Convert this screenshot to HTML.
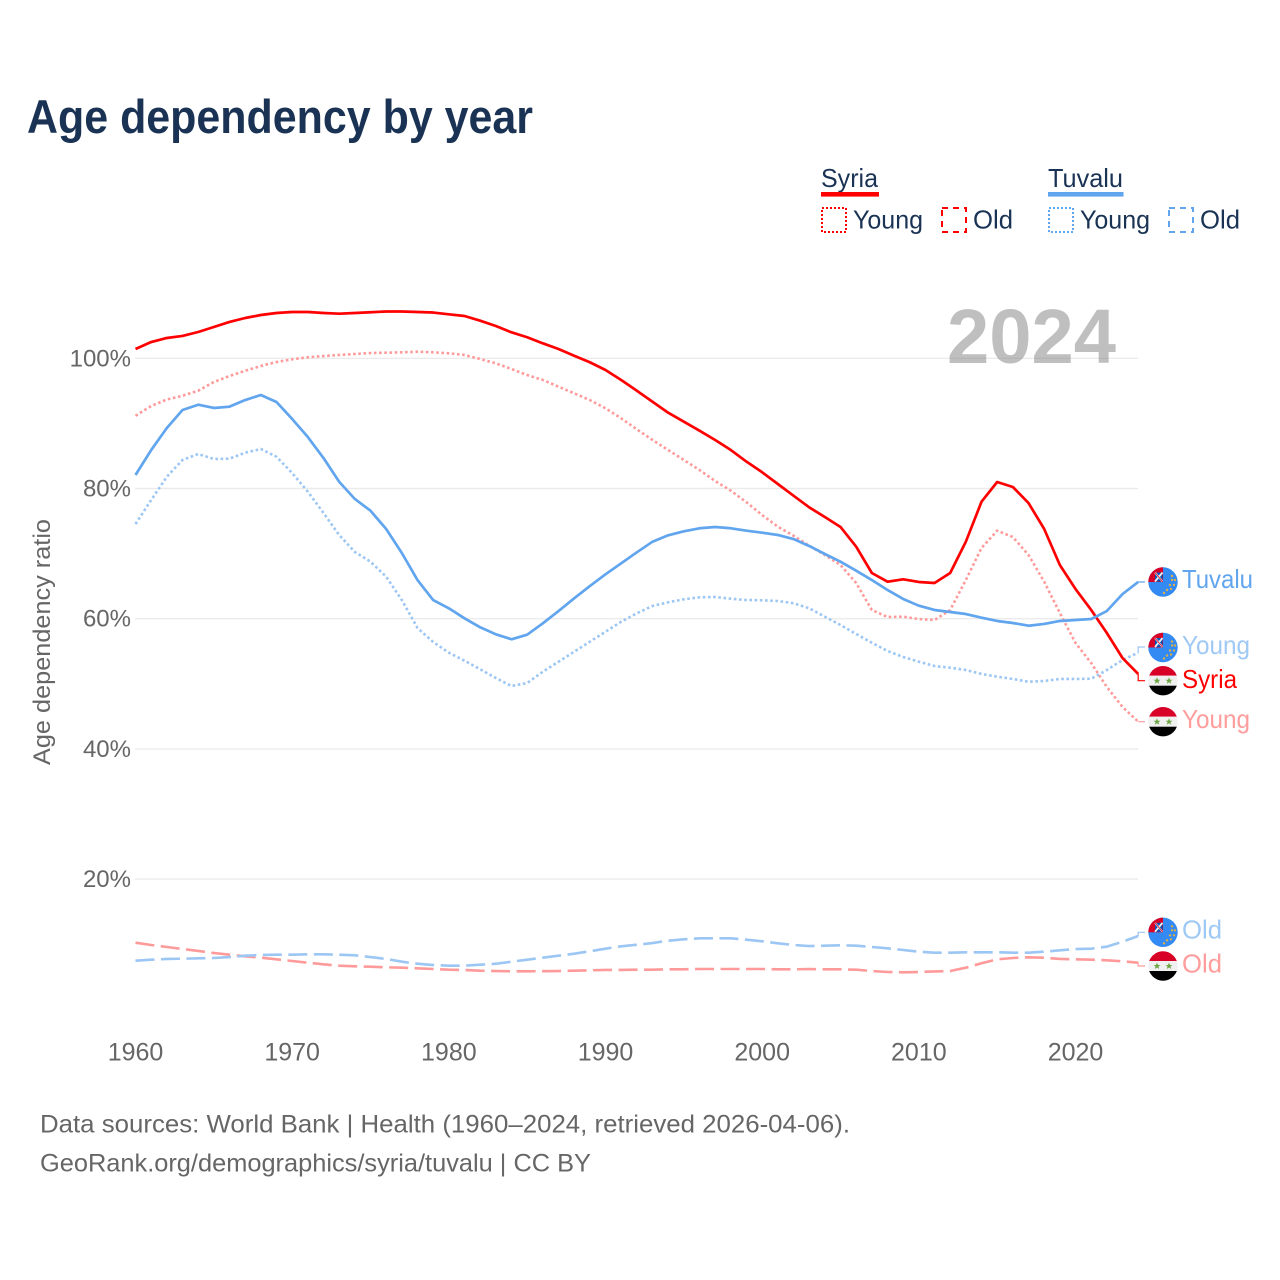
<!DOCTYPE html>
<html lang="en">
<head>
<meta charset="utf-8">
<title>Age dependency by year</title>
<style>
html,body{margin:0;padding:0;background:#fff;width:1280px;height:1280px;overflow:hidden}
svg{display:block}
text{font-family:"Liberation Sans",sans-serif}
</style>
</head>
<body>
<svg id="chart" xmlns="http://www.w3.org/2000/svg" width="1280" height="1280" viewBox="0 0 1280 1280">
  <defs>
    <clipPath id="flag-clip"><circle cx="0" cy="0" r="14.7"/></clipPath>
    <symbol id="flag-tuvalu" overflow="visible" viewBox="-15 -15 30 30" width="30" height="30">
      <g clip-path="url(#flag-clip)">
        <rect x="-15" y="-15" width="30" height="30" fill="#338af3"/>
        <rect x="-15" y="-15" width="15" height="15" fill="#d80027"/>
        <polygon points="-15,-15 -9,-15 -15,-8" fill="#f0f0f0"/>
        <rect x="-8" y="-9.500" width="7.500" height="9" fill="#0052b4"/>
        <path d="M-8,-9.500 L-0.500,-0.500 M-0.500,-9.500 L-8,-0.500" stroke="#f0f0f0" stroke-width="1.800"/>
        <path d="M-8,-9.500 L-0.500,-0.500" stroke="#d80027" stroke-width="0.800"/>
        <g fill="#d8b04a">
          <circle cx="9" cy="-2" r="1.200"/><circle cx="12" cy="-2" r="1.200"/><circle cx="7" cy="3" r="1.200"/>
          <circle cx="11" cy="3" r="1.200"/><circle cx="4" cy="8" r="1.200"/><circle cx="8" cy="7" r="1.200"/>
          <circle cx="1" cy="11" r="1.200"/><circle cx="9" cy="-6" r="1.200"/>
        </g>
      </g>
    </symbol>
    <symbol id="flag-syria" overflow="visible" viewBox="-15 -15 30 30" width="30" height="30">
      <g clip-path="url(#flag-clip)">
        <rect x="-15" y="-15" width="30" height="10" fill="#d80027"/>
        <rect x="-15" y="-5" width="30" height="10" fill="#f0f0f0"/>
        <rect x="-15" y="5" width="30" height="10" fill="#000"/>
        <polygon points="-6,-3.400 -5,-1 -2.500,-1 -4.500,0.500 -3.800,3 -6,1.500 -8.200,3 -7.500,0.500 -9.500,-1 -7,-1" fill="#6da544"/>
        <polygon points="6,-3.400 7,-1 9.500,-1 7.500,0.500 8.200,3 6,1.500 3.800,3 4.500,0.500 2.500,-1 5,-1" fill="#6da544"/>
      </g>
    </symbol>
  </defs>

  <text x="27" y="133" font-size="47" font-weight="700" fill="#1a3354" textLength="506" lengthAdjust="spacingAndGlyphs">Age dependency by year</text>

  <g id="grid"></g>

  <text x="947" y="363" font-size="77" font-weight="700" fill="#808080" fill-opacity="0.5" textLength="169" lengthAdjust="spacingAndGlyphs">2024</text>

  <g id="y-ticks"></g>
  <g id="x-ticks"></g>
  <text transform="translate(50,642) rotate(-90)" text-anchor="middle" font-size="24" fill="#666" textLength="246" lengthAdjust="spacingAndGlyphs">Age dependency ratio</text>

  <g id="series"></g>

  <g font-size="26" fill="#1a3354">
    <text x="821" y="187" textLength="57" lengthAdjust="spacingAndGlyphs">Syria</text>
    <rect x="821" y="192" width="58" height="4.6" fill="#ff0000"/>
    <rect x="822" y="208" width="24" height="24" fill="none" stroke="#ff0000" stroke-width="2" stroke-dasharray="2 2"/>
    <text x="853" y="228.500" textLength="70" lengthAdjust="spacingAndGlyphs">Young</text>
    <rect x="942" y="208" width="24" height="24" fill="none" stroke="#ff0000" stroke-width="2" stroke-dasharray="6 5"/>
    <text x="973" y="228.500" textLength="40" lengthAdjust="spacingAndGlyphs">Old</text>
    <text x="1048" y="187" textLength="75" lengthAdjust="spacingAndGlyphs">Tuvalu</text>
    <rect x="1048" y="192" width="75.500" height="4.6" fill="#60a5ee"/>
    <rect x="1049" y="208" width="24" height="24" fill="none" stroke="#60a5ee" stroke-width="2" stroke-dasharray="2 2"/>
    <text x="1080" y="228.500" textLength="70" lengthAdjust="spacingAndGlyphs">Young</text>
    <rect x="1169" y="208" width="24" height="24" fill="none" stroke="#60a5ee" stroke-width="2" stroke-dasharray="6 5"/>
    <text x="1200" y="228.500" textLength="40" lengthAdjust="spacingAndGlyphs">Old</text>
  </g>

  <g font-size="26">
    <use href="#flag-tuvalu" x="1148" y="567"/>
    <text x="1182" y="588" fill="#60a5ee" textLength="71" lengthAdjust="spacingAndGlyphs">Tuvalu</text>
    <use href="#flag-tuvalu" x="1148" y="632.500"/>
    <text x="1182" y="654" fill="#9fc9f5" textLength="68" lengthAdjust="spacingAndGlyphs">Young</text>
    <use href="#flag-syria" x="1148" y="665.700"/>
    <text x="1182" y="688" fill="#ff0000" textLength="55" lengthAdjust="spacingAndGlyphs">Syria</text>
    <use href="#flag-syria" x="1148" y="706.700"/>
    <text x="1182" y="728" fill="#ff9c9c" textLength="68" lengthAdjust="spacingAndGlyphs">Young</text>
    <use href="#flag-tuvalu" x="1148" y="917.300"/>
    <text x="1182" y="938.500" fill="#9fc9f5" textLength="40" lengthAdjust="spacingAndGlyphs">Old</text>
    <use href="#flag-syria" x="1148" y="951"/>
    <text x="1182" y="972.500" fill="#ff9c9c" textLength="40" lengthAdjust="spacingAndGlyphs">Old</text>
  </g>

  <text x="40" y="1132.500" font-size="25" fill="#666" textLength="810" lengthAdjust="spacingAndGlyphs">Data sources: World Bank | Health (1960–2024, retrieved 2026-04-06).</text>
  <text x="40" y="1171.500" font-size="25" fill="#666" textLength="551" lengthAdjust="spacingAndGlyphs">GeoRank.org/demographics/syria/tuvalu | CC BY</text>
</svg>

<script>
const startYear = 1960;
const xTickLabels = ["1960","1970","1980","1990","2000","2010","2020"];
const yTickValues = [20,40,60,80,100];
const yTickLabels = ["20%","40%","60%","80%","100%"];

const syriaTotal = [
101.43,102.50,103.12,103.43,104.04,104.81,105.58,106.19,106.65,106.96,
107.11,107.11,106.96,106.85,106.96,107.07,107.19,107.19,107.11,107.03,
106.76,106.50,105.78,104.96,103.99,103.23,102.30,101.43,100.40,99.39,
98.20,96.67,95.02,93.33,91.64,90.26,88.88,87.45,85.91,84.12,
82.49,80.69,78.89,77.11,75.62,74.09,71.06,67.02,65.68,66.05,
65.64,65.48,67.02,71.83,77.97,81.00,80.23,77.77,73.78,68.25,
64.56,61.34,57.80,53.96,51.51];

const syriaYoung = [
91.18,92.67,93.67,94.25,95.02,96.36,97.28,98.09,98.82,99.43,
99.85,100.15,100.35,100.51,100.66,100.81,100.86,100.92,101.01,100.92,
100.77,100.51,99.89,99.23,98.36,97.43,96.67,95.64,94.62,93.59,
92.32,90.78,89.09,87.45,85.91,84.38,82.84,81.15,79.66,77.88,
75.93,74.13,72.75,71.21,69.78,68.25,65.48,61.34,60.26,60.31,
59.95,59.80,61.34,65.94,70.86,73.52,72.55,69.78,65.68,60.88,
56.27,53.19,49.51,46.44,44.18];

const syriaOld = [
10.23,9.88,9.57,9.26,8.96,8.65,8.39,8.14,7.93,7.68,
7.42,7.16,6.91,6.70,6.61,6.54,6.45,6.39,6.30,6.19,
6.08,6.04,5.93,5.88,5.84,5.84,5.85,5.88,5.93,5.99,
6.04,6.04,6.08,6.08,6.14,6.14,6.19,6.19,6.19,6.19,
6.19,6.14,6.14,6.19,6.14,6.14,6.08,5.88,5.73,5.68,
5.73,5.81,5.88,6.39,7.07,7.68,7.88,7.99,7.93,7.73,
7.68,7.62,7.53,7.37,7.16];

const tuvaluTotal = [
82.07,85.91,89.29,92.06,92.87,92.37,92.57,93.59,94.36,93.29,
90.68,87.91,84.68,81.04,78.39,76.59,73.78,70.09,65.94,62.87,
61.60,60.06,58.68,57.60,56.84,57.54,59.29,61.18,63.13,65.02,
66.82,68.51,70.20,71.83,72.81,73.43,73.89,74.09,73.89,73.52,
73.21,72.86,72.24,71.17,69.94,68.76,67.37,65.94,64.41,63.03,
62.00,61.34,61.03,60.72,60.15,59.65,59.34,58.92,59.19,59.65,
59.80,59.95,61.18,63.79,65.64];

const tuvaluYoung = [
74.55,78.23,81.81,84.38,85.30,84.53,84.58,85.50,86.07,84.88,
82.38,79.51,76.24,72.86,70.25,68.76,66.45,62.87,58.57,56.42,
54.78,53.55,52.23,50.89,49.66,50.12,51.86,53.39,54.93,56.47,
58.00,59.54,60.83,61.95,62.52,62.98,63.29,63.33,63.07,62.87,
62.83,62.72,62.37,61.60,60.31,59.03,57.65,56.31,55.04,54.12,
53.39,52.73,52.47,52.12,51.51,51.09,50.74,50.32,50.43,50.74,
50.74,50.78,52.12,53.66,54.78];

const tuvaluOld = [
7.47,7.62,7.73,7.77,7.83,7.88,8.03,8.23,8.34,8.39,
8.39,8.45,8.45,8.39,8.29,8.03,7.73,7.31,7.00,6.80,
6.70,6.70,6.85,7.00,7.31,7.62,7.93,8.23,8.54,8.91,
9.31,9.68,9.92,10.18,10.54,10.75,10.91,10.91,10.91,10.69,
10.45,10.14,9.88,9.72,9.77,9.83,9.77,9.57,9.37,9.11,
8.85,8.69,8.69,8.76,8.76,8.76,8.69,8.69,8.85,9.06,
9.26,9.31,9.62,10.38,11.26];

const SVGNS = "http://www.w3.org/2000/svg";
function xScale(year){ return 135.500 + (year - startYear) * 15.667; }
function yScale(v){ return 1009.3 - v * 6.51; }

const gridG = document.getElementById("grid");
const yTickG = document.getElementById("y-ticks");
const xTickG = document.getElementById("x-ticks");
const seriesG = document.getElementById("series");

yTickValues.forEach(function(v, i){
  const line = document.createElementNS(SVGNS, "line");
  line.setAttribute("x1", 135);
  line.setAttribute("x2", 1138);
  line.setAttribute("y1", yScale(v));
  line.setAttribute("y2", yScale(v));
  line.setAttribute("stroke", "#ebebeb");
  line.setAttribute("stroke-width", "1.4");
  
  
  gridG.appendChild(line);

  const t = document.createElementNS(SVGNS, "text");
  t.setAttribute("x", 131);
  t.setAttribute("y", yScale(v) + 8);
  t.setAttribute("text-anchor", "end");
  t.setAttribute("font-size", "24");
  t.setAttribute("fill", "#666");
  t.textContent = yTickLabels[i];
  
  
  yTickG.appendChild(t);
});

xTickLabels.forEach(function(label){
  const t = document.createElementNS(SVGNS, "text");
  t.setAttribute("x", xScale(Number(label)));
  t.setAttribute("y", 1060.5);
  t.setAttribute("text-anchor", "middle");
  t.setAttribute("font-size", "25");
  t.setAttribute("fill", "#666");
  t.textContent = label;
  
  
  xTickG.appendChild(t);
});

function drawSeries(values, color, width, dash, labelY, name){
  const pts = values.map(function(v, i){
    return xScale(startYear + i).toFixed(2) + "," + yScale(v).toFixed(2);
  }).join(" ");
  const line = document.createElementNS(SVGNS, "polyline");
  line.setAttribute("points", pts);
  line.setAttribute("fill", "none");
  line.setAttribute("stroke", color);
  line.setAttribute("stroke-width", width);
  line.setAttribute("stroke-linejoin", "round");
  if (dash) line.setAttribute("stroke-dasharray", dash);
  
  
  seriesG.appendChild(line);

  const endX = xScale(startYear + values.length - 1);
  const endY = yScale(values[values.length - 1]);
  const conn = document.createElementNS(SVGNS, "polyline");
  conn.setAttribute("points", endX + "," + endY + " " + endX + "," + labelY + " 1145," + labelY);
  conn.setAttribute("fill", "none");
  conn.setAttribute("stroke", color);
  conn.setAttribute("stroke-width", "1.2");
  
  
  seriesG.appendChild(conn);
}

const redLight = "#ff9a9a";
const blueLight = "#9cc6f3";
drawSeries(syriaOld, redLight, 2.6, "19 6.5", 966, "line-syria-old");
drawSeries(tuvaluOld, blueLight, 2.6, "19 6.5", 932.3, "line-tuvalu-old");
drawSeries(syriaYoung, redLight, 2.6, "2.6 2.6", 721.7, "line-syria-young");
drawSeries(tuvaluYoung, blueLight, 2.6, "2.6 2.6", 647, "line-tuvalu-young");
drawSeries(syriaTotal, "#ff0000", 2.7, "", 680.7, "line-syria-total");
drawSeries(tuvaluTotal, "#60a5ee", 2.7, "", 582, "line-tuvalu-total");
</script>
</body>
</html>
